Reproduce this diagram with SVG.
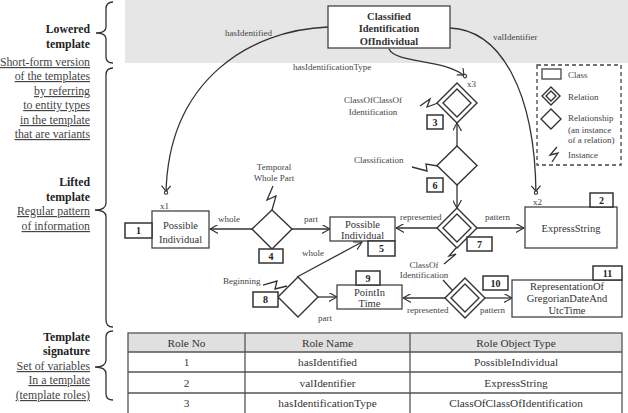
<svg xmlns="http://www.w3.org/2000/svg" width="628" height="413" viewBox="0 0 628 413" font-family="'Liberation Serif', 'DejaVu Serif', serif">
<defs>
<style>
text{font-family:'Liberation Serif','DejaVu Serif',serif;fill:#333}
.side{font-size:11.8px;text-anchor:end;fill:#222}
.b{font-weight:bold}
.u{text-decoration:underline;fill:#444}
.n{font-size:10.5px;text-anchor:middle}
.lab{font-size:9px;fill:#444}
.num{font-size:10px;font-weight:bold;text-anchor:middle;fill:#222}
.box{fill:#fff;stroke:#444;stroke-width:1.3}
.nb{fill:#fff;stroke:#333;stroke-width:1.5}
.ln{fill:none;stroke:#333;stroke-width:1.3}
.dm{fill:#fff;stroke:#333;stroke-width:1.4}
.td{font-size:11.3px;text-anchor:middle;fill:#333}
.tb{fill:none;stroke:#555;stroke-width:1.3}
</style>
<marker id="ah" viewBox="0 0 10 10" refX="9" refY="5" markerWidth="9" markerHeight="9" markerUnits="userSpaceOnUse" orient="auto">
<path d="M0,0 L9,5 L0,10" fill="none" stroke="#333" stroke-width="1.3"/>
</marker>
<marker id="rh" viewBox="0 0 12 12" refX="10" refY="6" markerWidth="11" markerHeight="11" markerUnits="userSpaceOnUse" orient="auto">
<path d="M1,1 L7,6 L1,11" fill="none" stroke="#333" stroke-width="1.3"/>
<circle cx="8.5" cy="6" r="1.8" fill="#fff" stroke="#333" stroke-width="1.2"/>
</marker>
</defs>

<rect x="125" y="0" width="503" height="63" fill="#e6e6e6"/>

<g id="side-labels">
<path class="ln" d="M113,2 Q106,2 106,9 L106,27 Q106,33 96,33 Q106,33 106,39 L106,57 Q106,63 113,63"/>
<path class="ln" d="M113,68 Q106,68 106,75 L106,203 Q106,210 95,210 Q106,210 106,217 L106,320 Q106,327 113,327"/>
<path class="ln" d="M113,331 Q106,331 106,337 L106,360 Q106,367 95,367 Q106,367 106,374 L106,394 Q106,400 113,400"/>
<text class="side b" x="90" y="33">Lowered</text>
<text class="side b" x="90" y="48">template</text>
<text class="side u" x="90" y="66">Short-form version</text>
<text class="side u" x="90" y="80">of the templates</text>
<text class="side u" x="90" y="95">by referring</text>
<text class="side u" x="90" y="109">to entity types</text>
<text class="side u" x="90" y="124">in the template</text>
<text class="side u" x="90" y="138">that are variants</text>
<text class="side b" x="90" y="186">Lifted</text>
<text class="side b" x="90" y="201">template</text>
<text class="side u" x="90" y="215">Regular pattern</text>
<text class="side u" x="90" y="230">of information</text>
<text class="side b" x="90" y="341">Template</text>
<text class="side b" x="90" y="355">signature</text>
<text class="side u" x="90" y="370">Set of variables</text>
<text class="side u" x="90" y="384">In a template</text>
<text class="side u" x="90" y="399">(template roles)</text>
</g>

<g id="connectors">
<path class="ln" d="M328,27 C250,30 168,80 166,194" marker-end="url(#rh)"/>
<path class="ln" d="M450,28 C500,30 535,90 536,194" marker-end="url(#rh)"/>
<path class="ln" d="M389,49 C396,64 445,58 466,77" marker-end="url(#rh)"/>
<line class="ln" x1="252" y1="229" x2="210" y2="229" marker-end="url(#ah)"/>
<line class="ln" x1="292" y1="229" x2="330" y2="229" marker-end="url(#ah)"/>
<line class="ln" x1="297" y1="277" x2="362" y2="242" marker-end="url(#ah)"/>
<line class="ln" x1="318" y1="297" x2="337" y2="297" marker-end="url(#ah)"/>
<line class="ln" x1="445" y1="298" x2="403" y2="298" marker-end="url(#ah)"/>
<line class="ln" x1="485" y1="298" x2="512" y2="298" marker-end="url(#ah)"/>
<line class="ln" x1="437" y1="228" x2="396" y2="228" marker-end="url(#ah)"/>
<line class="ln" x1="477" y1="228" x2="524" y2="228" marker-end="url(#ah)"/>
<line class="ln" x1="457" y1="146" x2="457" y2="123" marker-end="url(#ah)"/>
<line class="ln" x1="457" y1="185" x2="457" y2="208" marker-end="url(#ah)"/>
<polyline class="ln" points="273,186 267,200 276,196 272,210"/>
<polyline class="ln" points="263,285 277,281 275,289 287,286"/>
<polyline class="ln" points="412,167 427,171 426,164 438,166"/>
<polyline class="ln" points="420,106 430,99 427,107 438,103"/>
<polyline class="ln" points="456,248 449,256 456,254 444,264"/>
<line class="ln" x1="443" y1="280" x2="453" y2="291"/>
</g>

<g id="connector-labels">
<text class="lab" x="225" y="36" font-size="11">hasIdentified</text>
<text class="lab" x="293" y="70" font-size="10.3">hasIdentificationType</text>
<text class="lab" x="493" y="40" font-size="11">valIdentifier</text>
<text class="lab" x="160" y="209">x1</text>
<text class="lab" x="533" y="205">x2</text>
<text class="lab" x="467" y="87">x3</text>
<text class="lab" x="218" y="222">whole</text>
<text class="lab" x="304" y="222">part</text>
<text class="lab" x="302" y="256">whole</text>
<text class="lab" x="318" y="321">part</text>
<text class="lab" x="400" y="220">represented</text>
<text class="lab" x="485" y="220">pattern</text>
<text class="lab" x="407" y="313">represented</text>
<text class="lab" x="480" y="313">pattern</text>
</g>

<g id="n-top">
<rect class="box" x="328" y="6" width="122" height="42" fill="#e6e6e6"/>
<text class="n b" x="389" y="20" font-size="10">Classified</text>
<text class="n b" x="389" y="32" font-size="10">Identification</text>
<text class="n b" x="389" y="45" font-size="10">OfIndividual</text>
</g>

<g id="n1">
<rect class="box" x="152" y="211" width="57" height="37"/>
<text class="n" x="180.5" y="229">Possible</text>
<text class="n" x="180.5" y="243">Individual</text>
<rect class="nb" x="125" y="223" width="27" height="15"/>
<text class="num" x="138.5" y="234">1</text>
</g>

<g id="n4">
<polygon class="dm" points="272,210 292,229 272,249 252,229"/>
<rect class="nb" x="259" y="249" width="24" height="14"/>
<text class="num" x="271" y="260">4</text>
<text class="lab" x="274" y="170" text-anchor="middle">Temporal</text>
<text class="lab" x="274" y="181" text-anchor="middle">Whole Part</text>
</g>

<g id="n5">
<rect class="box" x="330" y="217" width="65" height="24"/>
<text class="n" x="362.5" y="228">Possible</text>
<text class="n" x="362.5" y="239">Individual</text>
<rect class="nb" x="368" y="241" width="27" height="15"/>
<text class="num" x="381.5" y="252">5</text>
</g>

<g id="n8">
<polygon class="dm" points="298,277 318,297 298,317 278,297"/>
<rect class="nb" x="253" y="292" width="25" height="15"/>
<text class="num" x="265.5" y="303">8</text>
<text class="lab" x="223" y="284">Beginning</text>
</g>

<g id="n9">
<rect class="box" x="337" y="285" width="65" height="24"/>
<text class="n" x="369.5" y="296">PointIn</text>
<text class="n" x="369.5" y="307">Time</text>
<rect class="nb" x="356" y="271" width="24" height="14"/>
<text class="num" x="368" y="282">9</text>
</g>

<g id="n10">
<polygon class="dm" points="465,278 485,298 465,318 445,298" stroke-width="1.6"/>
<polygon class="dm" points="465,284 479,298 465,312 451,298" stroke-width="1.6"/>
<rect class="nb" x="483" y="276" width="25" height="14"/>
<text class="num" x="495.5" y="287">10</text>
<text class="lab" x="424" y="268" text-anchor="middle">ClassOf</text>
<text class="lab" x="424" y="278" text-anchor="middle">Identification</text>
</g>

<g id="n11">
<rect class="box" x="512" y="280" width="110" height="37"/>
<text class="n" x="567" y="290">RepresentationOf</text>
<text class="n" x="567" y="302">GregorianDateAnd</text>
<text class="n" x="567" y="314">UtcTime</text>
<rect class="nb" x="593" y="266" width="29" height="14"/>
<text class="num" x="607.5" y="277">11</text>
</g>

<g id="n7">
<polygon class="dm" points="457,208 477,228 457,248 437,228" stroke-width="1.6"/>
<polygon class="dm" points="457,214 471,228 457,242 443,228" stroke-width="1.6"/>
<rect class="nb" x="467" y="237" width="25" height="14"/>
<text class="num" x="479.5" y="248">7</text>
</g>

<g id="n2">
<rect class="box" x="525" y="207" width="92" height="41"/>
<text class="n" x="571" y="232">ExpressString</text>
<rect class="nb" x="590" y="193" width="23" height="14"/>
<text class="num" x="601.5" y="204">2</text>
</g>

<g id="n6">
<polygon class="dm" points="457,146 477,165.5 457,185 437,165.5"/>
<rect class="nb" x="427" y="178" width="16" height="14"/>
<text class="num" x="435" y="189">6</text>
<text class="lab" x="354" y="163">Classification</text>
</g>

<g id="n3">
<polygon class="dm" points="457,83 477,103 457,123 437,103" stroke-width="1.6"/>
<polygon class="dm" points="457,89 471,103 457,117 443,103" stroke-width="1.6"/>
<rect class="nb" x="427" y="115" width="16" height="14"/>
<text class="num" x="435" y="126">3</text>
<text class="lab" x="373" y="103" text-anchor="middle">ClassOfClassOf</text>
<text class="lab" x="373" y="115" text-anchor="middle">Identification</text>
</g>

<g id="legend">
<rect x="537" y="65" width="84" height="100" fill="#fff" stroke="#444" stroke-width="1.3" stroke-dasharray="4,3"/>
<rect x="542" y="69" width="19" height="10" fill="#fff" stroke="#444" stroke-width="1.3"/>
<text class="lab" x="568" y="78" font-size="10">Class</text>
<polygon class="dm" points="551,87 560,96 551,105 542,96" stroke-width="1.5"/>
<polygon class="dm" points="551,91 556,96 551,101 546,96" stroke-width="1.5"/>
<text class="lab" x="568" y="100" font-size="10">Relation</text>
<polygon class="dm" points="551,109 561,119 551,129 541,119"/>
<text class="lab" x="568" y="121" font-size="10">Relationship</text>
<text class="lab" x="568" y="133" font-size="8.5">(an instance</text>
<text class="lab" x="568" y="143" font-size="8.5">of a relation)</text>
<polyline class="ln" points="557,147 550,155 558,153 552,162"/>
<text class="lab" x="568" y="158" font-size="10">Instance</text>
</g>

<g id="table">
<rect x="128" y="333" width="494" height="19" fill="#e0e0e0"/>
<rect class="tb" x="128" y="333" width="494" height="85"/>
<line class="tb" x1="128" y1="352" x2="622" y2="352"/>
<line class="tb" x1="128" y1="372" x2="622" y2="372"/>
<line class="tb" x1="128" y1="393" x2="622" y2="393"/>
<line class="tb" x1="245" y1="333" x2="245" y2="418"/>
<line class="tb" x1="410" y1="333" x2="410" y2="418"/>
<text class="td" x="186.5" y="347">Role No</text>
<text class="td" x="327.5" y="347">Role Name</text>
<text class="td" x="516" y="347">Role Object Type</text>
<text class="td" x="186.5" y="366">1</text>
<text class="td" x="327.5" y="366">hasIdentified</text>
<text class="td" x="516" y="366">PossibleIndividual</text>
<text class="td" x="186.5" y="386.5">2</text>
<text class="td" x="327.5" y="386.5">valIdentifier</text>
<text class="td" x="516" y="386.5">ExpressString</text>
<text class="td" x="186.5" y="407">3</text>
<text class="td" x="327.5" y="407">hasIdentificationType</text>
<text class="td" x="516" y="407">ClassOfClassOfIdentification</text>
</g>
</svg>
